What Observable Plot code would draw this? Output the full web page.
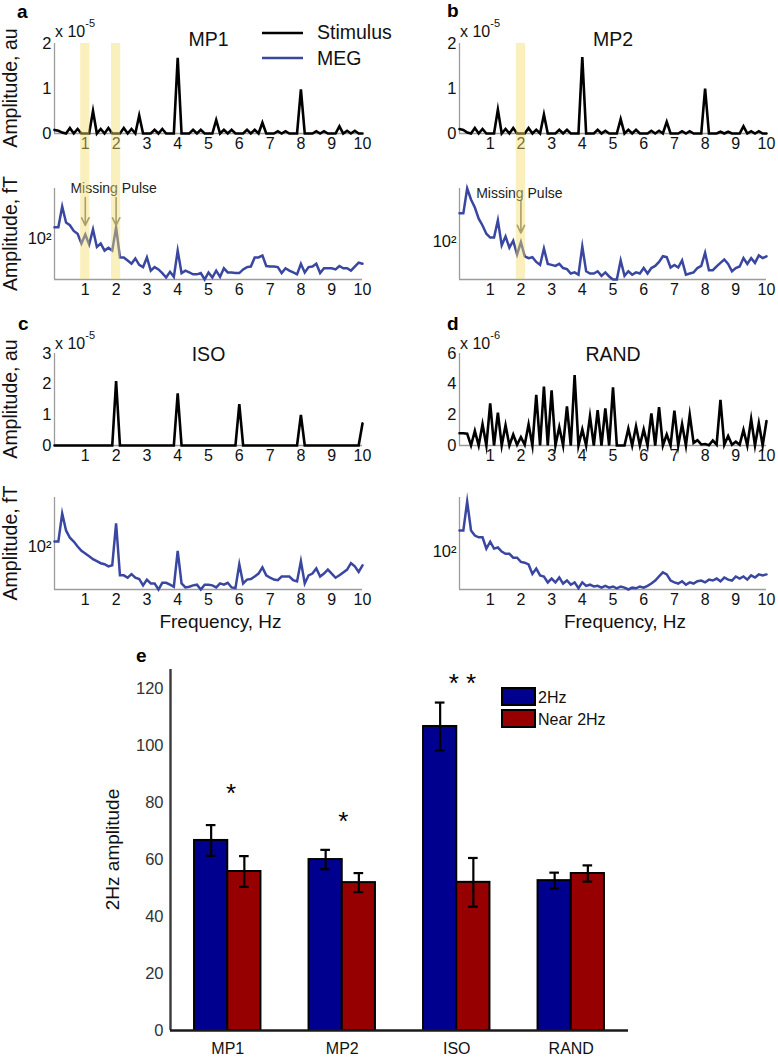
<!DOCTYPE html>
<html><head><meta charset="utf-8">
<script src="https://cdn.jsdelivr.net/npm/d3@7"></script>
<script src="https://cdn.jsdelivr.net/npm/@observablehq/plot@0.6"></script>
<style>
body{margin:0;background:#fff;}
#fig{position:relative;width:778px;height:1061px;overflow:hidden;background:#fff;font-family:"Liberation Sans",Arial,Helvetica,sans-serif;}
</style></head><body><div id="fig"></div>
<script>
// ---------------- DATA ----------------
// spectra sampled every 0.125 Hz from 0 to 10 Hz (81 samples)
const freqStep = 0.125;
const freqTicks = [1,2,3,4,5,6,7,8,9,10];

// stimulus spectra (a,b,c in x1e-5 au ; d in x1e-6 au)
const stimMP1 = [0.08,0.06,0.02,0,0.12,0,0.1,0,0,
  0,0.5,0,0.1,0,0.12,0,0,
  0,0.12,0,0.1,0,0.4,0,0,
  0,0.08,0,0.1,0,0,0,1.68,
  0,0,0,0.08,0,0.08,0,0,
  0,0.3,0,0.08,0,0.08,0,0,
  0,0.08,0,0.08,0,0.24,0,0,
  0,0.05,0,0.05,0,0,0,0.98,
  0,0,0,0.05,0,0.05,0,0,
  0,0.16,0,0.06,0,0.06,0,0];
const stimMP2 = [0.1,0.08,0.02,0,0.12,0,0.1,0,0,
  0,0.53,0,0.1,0,0.12,0,0,
  0,0.12,0,0.08,0,0.42,0,0,
  0,0.08,0,0.08,0,0,0,1.7,
  0,0,0,0.08,0,0.06,0,0,
  0,0.32,0,0.08,0,0.08,0,0,
  0,0.06,0,0.06,0,0.26,0,0,
  0,0.05,0,0.05,0,0,0,1.0,
  0,0,0,0.04,0,0.04,0,0,
  0,0.16,0,0.05,0,0.05,0,0];
const stimISO = [0,0,0,0,0,0,0,0,0,
  0,0,0,0,0,0,0,2.1,
  0,0,0,0,0,0,0,0,
  0,0,0,0,0,0,0,1.7,
  0,0,0,0,0,0,0,0,
  0,0,0,0,0,0,0,1.35,
  0,0,0,0,0,0,0,0,
  0,0,0,0,0,0,0,1.0,
  0,0,0,0,0,0,0,0,
  0,0,0,0,0,0,0,0.72];
const stimRAND = [0.8,0.8,0.77,0,0.95,0,1.38,0,2.75,
  0,2.15,0,1.32,0,0.72,0.05,0.55,
  0.05,1.38,0,3.3,0,3.85,0,3.6,
  0,1.2,0,2.55,0,4.6,0,1.05,
  0,1.9,0,2.3,0,2.42,0,3.8,
  0,0,0,1.1,0,1.25,0,1.05,
  0,2.1,0,2.5,0,0.72,0,2.27,
  0,1.4,0,2.0,0.17,0.35,0.07,0.1,
  0.02,0.33,0.05,2.97,0.05,0.62,0.05,0.25,
  0.05,1.02,0,1.72,0,1.45,0,1.6];

// MEG spectra (fT, log axis)
const megMP1 = [115,115,149,122,118,110,106,94,105,
  93,112,90,94,86,89,86,115,
  79,79,76,73,78,72,70,79,
  67,70,68,65,61.5,66,62,86,
  65,67,65.5,64,64,65,60,65.5,
  61.5,67,62,69,65.5,65.5,65,65,
  68,70,70.5,79,79,81,71,70.5,
  70.5,70,65,69,67,65.5,64,73,
  65.5,70,70.5,73,65,69,69,69,
  68,71,69,69,67,70.5,74,73];
const megMP2 = [146,146,204,176,158,136,124,111,105.5,
  105.5,133,95,107,92,101,84,99,
  82,80,81,76,73,91,74,73,
  72,74,70,69,65,66,64,93.5,
  67,65,65,67,63,66,62.5,60,
  60,77.5,63,67,64,66,65,70,
  65,70,72,76,82,81,70.5,73,
  70.5,77.5,64,65,66,70,72,86,
  68,68,71.5,75,78.5,74,67,70,
  71.5,80,74,80,75,83,80,82];
const megISO = [106,106,148,121,111,106,100,95,92,
  89,86,84,82,81,79,80,131.5,
  71,71,69,72,69,68,63,67.5,
  64.5,64.5,60,65,65,63.5,62,95,
  64.5,61.5,62,63,63.5,60,63.5,63.5,
  63,61.5,64.5,63.5,65,61.5,61,81,
  64.5,67.5,68,70,72.5,78,71,69,
  67.5,67,70,70,70,67,66,84,
  64.5,71,72.5,77,70,72.5,76,72.5,
  69,71,73.5,76,82,79,74,80];
const megRAND = [132.6,132.6,196,132.6,124,121,121,104,114,
  104,105.5,100,97,97,92,92,87,
  86,84,74,79.5,72.5,71.5,66,69.5,
  66,70.5,65,67.7,64,66,61,66,
  63,64,62.5,63,61.5,63,61.5,62.5,
  61,62.5,61.5,60,61.5,61,62.5,61.5,
  63,65,67.7,71.5,75.5,73.5,67.7,66,
  65,67,64,66,65,67,67.7,66,
  68.5,67.7,69.5,67,70.5,68.5,67.7,71.5,
  69.5,71.5,68.5,72.5,70.5,73.5,72.5,73.5];

const megDomMP1 = [60, 186.6];
const megDomMP2 = [60, 203.9];
const megDomISO = [60, 179];
const megDomRAND = [60, 206.7];

// "Missing Pulse" annotations
const missingMP1 = [{x: 1, from: 166.7, to: 117.6}, {x: 2, from: 166.7, to: 117.6}];
const missingMP1Label = [{x: 1.92, y: 186.6, text: "Missing Pulse"}];
const missingMP2 = [{x: 2, from: 173.5, to: 112}];
const missingMP2Label = [{x: 1.95, y: 190.6, text: "Missing Pulse"}];

// panel e
const groups = ["MP1", "MP2", "ISO", "RAND"];
const amp2Hz = [66.7, 60.0, 106.7, 52.6];
const sem2Hz = [5.4, 3.4, 8.4, 2.8];
const ampNear = [55.8, 51.9, 52.0, 55.1];
const semNear = [5.4, 3.35, 8.55, 2.85];
const barTicks = [0, 20, 40, 60, 80, 100, 120];
const starX = [1.03, 2.01, 3.05];
const starY = [85.3, 75.4, 124];
const starText = ["*", "*", "* *"];

// ---------------- LAYOUT ----------------
const FONT = '"Liberation Sans", Arial, Helvetica, sans-serif';
const AXIS_GRAY = "#9c9c9c";
const MEG_BLUE = "#3a47a0";
const BAR_BLUE = "#00008f";
const BAR_RED = "#960000";
const fig = document.getElementById("fig");
const COLS = [{left: 0, x0: 54, x1: 362}, {left: 389, x0: 459, x1: 766}];
const freqs = stimMP1.map((_, i) => i * freqStep);
const intFmt = d3.format("d");

function place(svg, left, top) {
  svg.style.position = "absolute";
  svg.style.left = left + "px";
  svg.style.top = top + "px";
  fig.appendChild(svg);
  return svg;
}

function specPlot(cfg) {
  const c = COLS[cfg.col];
  const W = 389;
  const top = cfg.y0 - cfg.padTop;
  const H = cfg.padTop + (cfg.y1 - cfg.y0) + cfg.padBottom;
  const rows = freqs.map((f, i) => ({f, v: cfg.values[i]}));
  const marks = [
    Plot.ruleX([0], {stroke: AXIS_GRAY, strokeWidth: 1.3}),
    Plot.ruleY([cfg.yDomain[0]], {stroke: AXIS_GRAY, strokeWidth: 1.3}),
    Plot.axisX({ticks: freqTicks, tickSize: 0, tickPadding: 4, fontSize: 16}),
    Plot.axisY({ticks: cfg.yTicks, tickSize: 0, tickPadding: 3, fontSize: 16.5, tickFormat: cfg.yTickFormat || intFmt}),
    Plot.line(rows, {x: "f", y: "v", stroke: cfg.stroke, strokeWidth: cfg.strokeWidth, strokeLinejoin: "miter", strokeMiterlimit: 8})
  ];
  if (cfg.title) marks.push(Plot.text([cfg.title], {text: d => d, frameAnchor: "top", dy: cfg.titleDy, fontSize: 19.5}));
  if (cfg.xlabel) marks.push(Plot.text([cfg.xlabel], {text: d => d, frameAnchor: "bottom", dy: 38, dx: 12, fontSize: 19}));
  if (cfg.extra) marks.push(...cfg.extra);
  const svg = Plot.plot({
    width: W, height: H,
    marginLeft: c.x0 - c.left, marginRight: c.left + W - c.x1,
    marginTop: cfg.padTop, marginBottom: cfg.padBottom,
    x: {domain: [0, 10], label: null},
    y: {type: cfg.yType || "linear", domain: cfg.yDomain, label: null},
    style: {background: "transparent", overflow: "visible", fontFamily: FONT, color: "#111"},
    marks
  });
  place(svg, c.left, top);
  return {svg, top, left: c.left, ylabel: cfg.ylabel};
}

function missingMarks(arrows, label) {
  return [
    Plot.arrow(arrows, {x1: "x", x2: "x", y1: "from", y2: "to", stroke: "#6d6d6d", strokeWidth: 1.6, headLength: 8, headAngle: 50}),
    Plot.text(label, {x: "x", y: "y", text: "text", fontSize: 14, fill: "#222"})
  ];
}

const stimA = specPlot({col: 0, y0: 43, y1: 133, padTop: 43, padBottom: 28, values: stimMP1, yDomain: [0, 2], yTicks: [0, 1, 2],
  stroke: "#000", strokeWidth: 2.6, title: "MP1", titleDy: -11.5, ylabel: "Amplitude, au"});
const megA = specPlot({col: 0, y0: 188, y1: 279, padTop: 14, padBottom: 26, values: megMP1, yType: "log", yDomain: megDomMP1,
  yTicks: [100], yTickFormat: () => "10²", stroke: MEG_BLUE, strokeWidth: 2.5, ylabel: "Amplitude, fT",
  extra: missingMarks(missingMP1, missingMP1Label)});
const stimB = specPlot({col: 1, y0: 43, y1: 133, padTop: 43, padBottom: 28, values: stimMP2, yDomain: [0, 2], yTicks: [0, 1, 2],
  stroke: "#000", strokeWidth: 2.6, title: "MP2", titleDy: -11.5});
const megB = specPlot({col: 1, y0: 188, y1: 279, padTop: 14, padBottom: 26, values: megMP2, yType: "log", yDomain: megDomMP2,
  yTicks: [100], yTickFormat: () => "10²", stroke: MEG_BLUE, strokeWidth: 2.5,
  extra: missingMarks(missingMP2, missingMP2Label)});
const stimC = specPlot({col: 0, y0: 353, y1: 445, padTop: 20, padBottom: 28, values: stimISO, yDomain: [0, 3], yTicks: [0, 1, 2, 3],
  stroke: "#000", strokeWidth: 2.6, title: "ISO", titleDy: -6, ylabel: "Amplitude, au"});
const megC = specPlot({col: 0, y0: 497, y1: 589, padTop: 14, padBottom: 50, values: megISO, yType: "log", yDomain: megDomISO,
  yTicks: [100], yTickFormat: () => "10²", stroke: MEG_BLUE, strokeWidth: 2.5, ylabel: "Amplitude, fT", xlabel: "Frequency, Hz"});
const stimD = specPlot({col: 1, y0: 353, y1: 445, padTop: 20, padBottom: 28, values: stimRAND, yDomain: [0, 6], yTicks: [0, 2, 4, 6],
  stroke: "#000", strokeWidth: 2.6, title: "RAND", titleDy: -6});
const megD = specPlot({col: 1, y0: 497, y1: 589, padTop: 14, padBottom: 50, values: megRAND, yType: "log", yDomain: megDomRAND,
  yTicks: [100], yTickFormat: () => "10²", stroke: MEG_BLUE, strokeWidth: 2.5, xlabel: "Frequency, Hz"});

// ---------------- PANEL E ----------------
const BW = 0.29;
const barTop = 640;
const barRows = groups.flatMap((g, k) => [
  {g, i: k + 1, side: -1, v: amp2Hz[k], e: sem2Hz[k]},
  {g, i: k + 1, side: 1, v: ampNear[k], e: semNear[k]}
]);
const cx = d => d.i + d.side * BW / 2;
const stars = starX.map((x, k) => ({x, y: starY[k], t: starText[k]}));
const barSvg = Plot.plot({
  width: 778, height: 421,
  marginLeft: 170, marginRight: 150, marginTop: 29, marginBottom: 31,
  x: {domain: [0.5, 4.5], label: null},
  y: {domain: [0, 126.7], label: null},
  style: {background: "transparent", overflow: "visible", fontFamily: FONT, color: "#333"},
  marks: [
    Plot.rect(barRows, {x1: d => d.side < 0 ? d.i - BW : d.i, x2: d => d.side < 0 ? d.i : d.i + BW, y1: 0, y2: "v",
      fill: d => d.side < 0 ? BAR_BLUE : BAR_RED, stroke: "#000", strokeWidth: 2}),
    Plot.ruleX(barRows, {x: cx, y1: d => d.v - d.e, y2: d => d.v + d.e, stroke: "#000", strokeWidth: 2.2}),
    Plot.ruleY(barRows, {y: d => d.v - d.e, x1: d => cx(d) - 0.042, x2: d => cx(d) + 0.042, stroke: "#000", strokeWidth: 2.2}),
    Plot.ruleY(barRows, {y: d => d.v + d.e, x1: d => cx(d) - 0.042, x2: d => cx(d) + 0.042, stroke: "#000", strokeWidth: 2.2}),
    Plot.ruleX([0.5], {stroke: "#3a3a3a", strokeWidth: 2.4}),
    Plot.ruleY([0], {stroke: "#1a1a1a", strokeWidth: 2.4}),
    Plot.axisY({ticks: barTicks, tickSize: 0, tickPadding: 7, fontSize: 16.5}),
    Plot.axisX({ticks: [1, 2, 3, 4], tickFormat: i => groups[i - 1], tickSize: 0, tickPadding: 12, fontSize: 16, fill: "#111"}),
    Plot.text(stars, {x: "x", y: "y", text: "t", fontSize: 26, dy: 6, fill: "#000"})
  ]
});
place(barSvg, 0, barTop);

// ---------------- OVERLAY (letters, axis titles, multipliers, legends, highlight bands) ----------------
const ov = d3.create("svg").attr("width", 778).attr("height", 1061)
  .style("position", "absolute").style("left", "0px").style("top", "0px")
  .style("pointer-events", "none").style("font-family", FONT);

function band(stim, meg, f) {
  const sx = stim.svg.scale("x");
  const sy = stim.svg.scale("y"), my = meg.svg.scale("y");
  const xl = sx.apply(f - 0.15) + stim.left, xr = sx.apply(f + 0.15) + stim.left;
  const yt = sy.apply(sy.domain[1]) + stim.top;
  const yb = my.apply(my.domain[0]) + meg.top;
  ov.append("rect").attr("x", xl).attr("y", yt).attr("width", xr - xl).attr("height", yb - yt)
    .attr("fill", "rgb(242,222,110)").attr("fill-opacity", 0.45);
}
band(stimA, megA, 1);
band(stimA, megA, 2);
band(stimB, megB, 2);

// rotated y-axis titles, centred on each frame
function yTitle(text, cy, baselineX, size) {
  ov.append("text").attr("transform", `translate(${baselineX},${cy}) rotate(-90)`)
    .attr("text-anchor", "middle").attr("font-size", size).attr("fill", "#111").text(text);
}
for (const p of [stimA, megA, stimC, megC]) {
  const sy = p.svg.scale("y");
  const cy = (sy.apply(sy.domain[0]) + sy.apply(sy.domain[1])) / 2 + p.top;
  yTitle(p.ylabel, cy, 17, 19.5);
}
{
  const sy = barSvg.scale("y");
  const cy = (sy.apply(sy.domain[0]) + sy.apply(sy.domain[1])) / 2 + barTop;
  yTitle("2Hz amplitude", cy, 119, 19);
}

const letters = [["a", 17, 18], ["b", 447, 17], ["c", 18, 330], ["d", 447, 330], ["e", 136, 662]];
for (const [t, x, y] of letters) {
  ov.append("text").attr("x", x).attr("y", y).attr("font-size", 19).attr("font-weight", "bold").attr("fill", "#000").text(t);
}

const mults = [[55, 37, "-5"], [460, 37, "-5"], [55, 349, "-5"], [460, 349, "-6"]];
for (const [x, y, e] of mults) {
  const t = ov.append("text").attr("x", x).attr("y", y).attr("font-size", 16).attr("fill", "#111").text("x 10");
  t.append("tspan").attr("dy", -10).attr("font-size", 11).text(e);
}

// legend panel a
ov.append("line").attr("x1", 262).attr("x2", 303).attr("y1", 33).attr("y2", 33).attr("stroke", "#000").attr("stroke-width", 2.6);
ov.append("line").attr("x1", 262).attr("x2", 303).attr("y1", 58).attr("y2", 58).attr("stroke", MEG_BLUE).attr("stroke-width", 2.6);
ov.append("text").attr("x", 317).attr("y", 39).attr("font-size", 19.5).attr("fill", "#111").text("Stimulus");
ov.append("text").attr("x", 317).attr("y", 65).attr("font-size", 19.5).attr("fill", "#111").text("MEG");

// legend panel e
ov.append("rect").attr("x", 502).attr("y", 688).attr("width", 33).attr("height", 17).attr("fill", BAR_BLUE).attr("stroke", "#000").attr("stroke-width", 2);
ov.append("rect").attr("x", 502).attr("y", 710).attr("width", 33).attr("height", 17).attr("fill", BAR_RED).attr("stroke", "#000").attr("stroke-width", 2);
ov.append("text").attr("x", 538).attr("y", 703).attr("font-size", 16).attr("fill", "#111").text("2Hz");
ov.append("text").attr("x", 538).attr("y", 725).attr("font-size", 16).attr("fill", "#111").text("Near 2Hz");

fig.appendChild(ov.node());
</script></body></html>
